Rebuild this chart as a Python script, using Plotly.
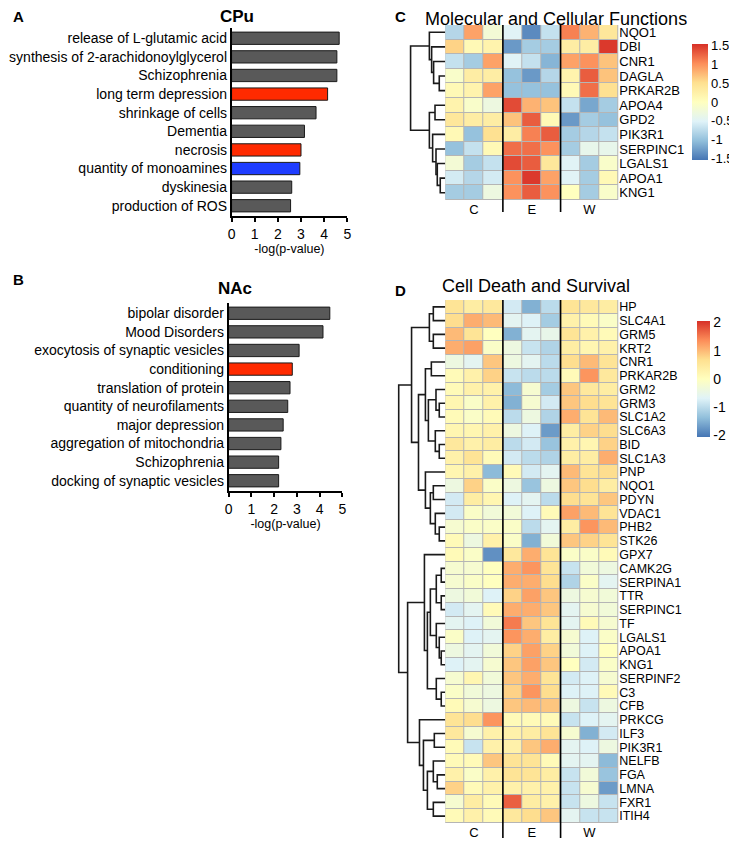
import plotly.graph_objects as go

# the html body adds an 8 px margin, so the figure div is sized to fit the 737x841 page
PAGE_OFF = 8
W, H = 737 - PAGE_OFF, 841 - PAGE_OFF
FONT = "Liberation Sans, Arial, sans-serif"

# ---------------- Panel A / B data ----------------
terms_A = ["release of L-glutamic acid", "synthesis of 2-arachidonoylglycerol",
           "Schizophrenia", "long term depression", "shrinkage of cells",
           "Dementia", "necrosis", "quantity of monoamines", "dyskinesia",
           "production of ROS"]
logp_A = [4.65, 4.55, 4.55, 4.15, 3.65, 3.15, 3.0, 2.95, 2.6, 2.55]
highlight_A = {"long term depression": "red", "necrosis": "red",
               "quantity of monoamines": "blue"}

terms_B = ["bipolar disorder", "Mood Disorders", "exocytosis of synaptic vesicles",
           "conditioning", "translation of protein", "quantity of neurofilaments",
           "major depression", "aggregation of mitochondria", "Schizophrenia",
           "docking of synaptic vesicles"]
logp_B = [4.45, 4.15, 3.1, 2.8, 2.7, 2.6, 2.4, 2.3, 2.2, 2.2]
highlight_B = {"conditioning": "red"}

# ---------------- Heatmap data ----------------
groups = ["C", "E", "W"]
reps = 3
samples = [g + str(r + 1) for g in groups for r in range(reps)]

genes_C = ["NQO1", "DBI", "CNR1", "DAGLA", "PRKAR2B", "APOA4", "GPD2", "PIK3R1",
           "SERPINC1", "LGALS1", "APOA1", "KNG1"]
expr_C = [
    [-0.8, 0.9, -0.2, -0.5, -1.4, -0.7, 1.1, 0.8, 0.4],
    [0.6, 0.1, 0.2, -1.3, -0.9, -0.9, 0.3, 0.3, 1.5],
    [-0.7, -0.9, 0.9, -0.5, -0.7, -1.1, 0.9, 1.0, 0.7],
    [-0.1, 0.3, 0.3, -1.0, -1.3, -0.8, 0.2, 1.3, 0.7],
    [0.1, 0.2, 0.9, -1.0, -1.0, -1.0, 0.1, 1.2, 0.5],
    [0.2, -0.1, -0.3, 1.4, 0.8, 0.7, -0.7, -1.2, -0.9],
    [0.4, 0.3, 0.3, 0.7, 1.3, 0.1, -1.3, -0.9, -1.0],
    [0.1, -1.0, 0.5, 0.3, 1.1, 1.3, -0.9, -0.8, -0.7],
    [-1.0, -0.7, 0.1, 1.2, 1.2, 1.0, -0.9, -0.4, -0.4],
    [-0.2, -0.9, -0.7, 1.4, 1.3, 0.4, -0.5, -0.9, -0.1],
    [-0.6, -0.8, -0.6, 1.0, 1.5, 0.9, -0.5, -0.9, 0.1],
    [-0.9, -0.9, -0.3, 1.0, 1.3, 1.0, 0.0, -0.9, -0.1],
]
# row clustering: (left, right, height); ints refer to earlier merges
link_C = [
    ("DAGLA", "PRKAR2B", 6), ("CNR1", 0, 11.7), ("DBI", 1, 13.7), ("NQO1", 2, 16),
    ("APOA1", "KNG1", 5), ("LGALS1", 4, 8), ("SERPINC1", 5, 9.3), ("PIK3R1", 6, 12.7),
    ("APOA4", "GPD2", 10.3), (8, 7, 16), (3, 9, 35),
]

genes_D = ["HP", "SLC4A1", "GRM5", "KRT2", "CNR1", "PRKAR2B", "GRM2", "GRM3",
           "SLC1A2", "SLC6A3", "BID", "SLC1A3", "PNP", "NQO1", "PDYN", "VDAC1",
           "PHB2", "STK26", "GPX7", "CAMK2G", "SERPINA1", "TTR", "SERPINC1", "TF",
           "LGALS1", "APOA1", "KNG1", "SERPINF2", "C3", "CFB", "PRKCG", "ILF3",
           "PIK3R1", "NELFB", "FGA", "LMNA", "FXR1", "ITIH4"]
expr_D = [
    [0.6, 0.4, 0.5, -0.8, -1.5, -1.0, 0.6, 0.5, 0.4],
    [0.7, 1.1, 1.0, -0.6, -0.7, -1.2, 0.3, 0.1, -0.1],
    [1.0, 0.6, 0.0, -1.5, -0.6, -0.5, 0.6, 0.3, 0.1],
    [1.1, 1.2, -0.1, -0.4, -0.9, -1.1, 0.4, 0.2, 0.3],
    [-0.4, -0.6, 0.9, -0.4, -0.6, -1.0, 0.7, 1.0, 0.6],
    [0.1, 0.3, 0.8, -0.9, -1.0, -1.0, 0.1, 1.3, 0.5],
    [0.1, 0.3, 0.3, -1.4, -0.2, -1.2, 0.9, 0.5, 0.4],
    [0.2, -0.1, 0.3, -1.5, -0.2, -0.8, 0.9, 0.7, 0.6],
    [0.1, -0.1, 0.1, -1.0, -0.4, -1.1, 1.1, 0.6, 1.0],
    [0.2, 0.2, 0.3, -0.4, -0.7, -1.7, 0.4, 0.8, 0.7],
    [0.5, 0.3, 0.4, -1.0, -0.8, -1.3, 0.3, 0.2, 0.8],
    [0.3, 0.6, 0.1, -0.8, -1.0, -1.1, 0.4, 0.4, 1.1],
    [0.2, 0.3, -1.4, 0.1, -0.8, -0.6, 1.0, 0.6, 0.7],
    [-0.4, 0.8, -0.1, -0.4, -1.3, -0.4, 0.9, 0.7, 0.4],
    [-0.8, 0.4, 0.2, -0.7, -0.6, -1.0, 0.7, 0.6, 0.9],
    [-0.8, -0.1, -0.3, -0.3, -0.7, 0.1, 1.2, 1.0, 0.6],
    [-0.2, -0.1, -0.1, -0.1, -1.0, -0.6, 0.4, 1.3, 1.0],
    [0.1, -0.4, 0.3, -0.1, -1.5, -0.3, 0.9, 0.8, 0.6],
    [0.1, -0.1, -1.8, 0.5, 1.1, 0.6, -0.1, -0.1, 0.1],
    [-0.2, -0.2, 0.0, 1.1, 1.3, 0.6, -0.9, -0.3, -0.4],
    [-0.2, -0.1, 0.0, 1.1, 1.1, 0.7, -1.1, -0.1, -0.6],
    [-0.4, -0.3, -0.7, 0.8, 1.2, 0.9, -0.4, -0.2, -0.3],
    [-0.8, -0.6, 0.1, 1.1, 1.1, 0.9, -0.6, -0.2, -0.3],
    [-0.6, -0.7, -0.3, 1.5, 0.9, 0.6, -0.6, 0.1, -0.2],
    [-0.1, -0.7, -0.6, 1.3, 1.1, 0.4, -0.2, -0.7, -0.1],
    [-0.4, -0.6, -0.3, 0.8, 1.2, 0.8, -0.3, -0.7, 0.0],
    [-0.7, -0.6, -0.2, 0.9, 1.2, 0.9, 0.0, -0.8, -0.1],
    [-0.2, 0.2, -0.3, 0.9, 1.1, 0.6, -0.8, -0.7, -0.2],
    [-0.1, -0.3, -0.4, 0.8, 1.3, 0.7, -0.7, -0.7, 0.1],
    [0.1, -0.2, -0.4, 0.9, 1.0, 0.9, -0.4, -0.9, -0.4],
    [0.6, 0.7, 1.3, 0.1, 0.1, 0.1, -0.9, -0.7, -0.6],
    [0.5, -0.2, 0.3, 0.3, 0.4, 0.6, -0.2, -1.5, -0.8],
    [0.1, -0.9, 0.3, 0.3, 0.9, 1.1, -0.6, -0.7, -0.4],
    [0.1, 0.1, 0.9, 0.6, 0.6, 0.1, -0.6, -0.6, -1.4],
    [0.3, -0.1, 0.3, 0.6, 0.6, 0.4, -0.9, -0.3, -1.3],
    [0.8, 0.1, 0.3, 0.3, 0.3, 0.3, -0.9, -0.2, -1.7],
    [-0.2, 0.4, 0.1, 1.7, 0.4, 0.3, -0.9, -0.4, -0.9],
    [0.1, 0.3, 0.1, 0.5, 0.7, 0.9, -0.6, -0.9, -0.9],
]
link_D = [
    ("HP", "SLC4A1", 12), ("GRM5", "KRT2", 12), (0, 1, 16),
    ("CNR1", "PRKAR2B", 14), ("GRM3", "SLC1A2", 6), ("GRM2", 4, 9.3),
    ("BID", "SLC1A3", 6), ("SLC6A3", 6, 10), (5, 7, 17), (3, 8, 20),
    ("NQO1", "PDYN", 12), ("PHB2", "STK26", 6), ("VDAC1", 11, 10), (10, 12, 15),
    ("PNP", 13, 20), (9, 14, 27), (2, 15, 34),
    ("CAMK2G", "SERPINA1", 4), ("TTR", "SERPINC1", 4), (17, 18, 9),
    ("APOA1", "KNG1", 4), ("LGALS1", 20, 6), ("TF", 21, 9), (19, 22, 15),
    ("C3", "CFB", 4), ("SERPINF2", 24, 9), (23, 25, 18), ("GPX7", 26, 21),
    ("ILF3", "PIK3R1", 11), ("FGA", "LMNA", 8), ("NELFB", 29, 12),
    ("FXR1", "ITIH4", 12), (30, 31, 18), (28, 32, 22), ("PRKCG", 33, 26),
    (27, 34, 38), (16, 35, 47),
]


# ---------------- helpers (page pixel -> paper fraction) ----------------
def px_x(p):
    return (p - PAGE_OFF) / W


def px_y(p):
    return 1 - (p - PAGE_OFF) / H


def dendro_lines(genes, links):
    leaf = {g: (i, 0.0) for i, g in enumerate(genes)}
    nodes = []
    xs, ys = [], []
    for a, b, h in links:
        ya, ha = nodes[a] if isinstance(a, int) else leaf[a]
        yb, hb = nodes[b] if isinstance(b, int) else leaf[b]
        xs += [ha, h, h, hb, None]
        ys += [ya, ya, yb, yb, None]
        nodes.append(((ya + yb) / 2, h))
    return xs, ys


BAR_COLORS = {"red": "#ff2a00", "blue": "#1e3cff"}
GREY = "#595959"
RDYLBU = [[0, "#4575B4"], [1 / 6, "#91BFDB"], [2 / 6, "#E0F3F8"], [0.5, "#FFFFBF"],
          [4 / 6, "#FEE090"], [5 / 6, "#FC8D59"], [1, "#D73027"]]

fig = go.Figure()

# ---------------- bars ----------------
for terms, vals, hl, xa, ya in [(terms_A, logp_A, highlight_A, "x", "y"),
                                (terms_B, logp_B, highlight_B, "x2", "y2")]:
    fig.add_trace(go.Bar(
        x=vals, y=terms, orientation="h", xaxis=xa, yaxis=ya,
        marker=dict(color=[BAR_COLORS[hl[t]] if t in hl else GREY for t in terms],
                    line=dict(color="#1a1a1a", width=1)),
        width=0.66, showlegend=False, hoverinfo="x+y"))

bar_axes = [("xaxis", "yaxis", 230, 347, 28, 216, terms_A),
            ("xaxis2", "yaxis2", 227, 342, 303, 491, terms_B)]
layout = {}
for xk, yk, x0, x1, y0, y1, terms in bar_axes:
    layout[xk] = dict(domain=[px_x(x0), px_x(x1)], range=[0, 5], dtick=1,
                      showline=True, linecolor="black", linewidth=1.5,
                      ticks="outside", ticklen=4, tickwidth=1.5, tickcolor="black",
                      showgrid=False, zeroline=False,
                      anchor=yk.replace("axis", ""),
                      tickfont=dict(size=14, color="black"),
                      title=dict(text="-log(p-value)", standoff=2,
                                 font=dict(size=12.5, color="black")))
    layout[yk] = dict(domain=[px_y(y1), px_y(y0)], type="category",
                      categoryarray=terms, tickvals=terms,
                      range=[len(terms) - 0.45, -0.55],
                      showline=True, linecolor="black", linewidth=1.5,
                      ticks="", showgrid=False, zeroline=False,
                      anchor=xk.replace("axis", ""),
                      tickfont=dict(size=14, color="black"))

# ---------------- heatmaps ----------------
heat_specs = [
    (genes_C, expr_C, link_C, "x3", "y3", "x4", "y4", "coloraxis",
     25, 200, 212, 409, 37, 13),
    (genes_D, expr_D, link_D, "x5", "y5", "x6", "y6", "coloraxis2",
     300, 823, 838, 396, 50, 12.5),
]
shapes = []
HX0, HX1 = 446, 621
for genes, expr, links, hx, hy, dx, dy, cax, top, bot, sep_bot, dx0, dmax, gfs in heat_specs:
    n = len(genes)
    # grey cell borders
    shapes.append(dict(type="rect", xref="paper", yref="paper",
                       x0=px_x(HX0), x1=px_x(HX1), y0=px_y(bot), y1=px_y(top),
                       fillcolor="#b5b5b5", line=dict(width=0), layer="below"))
    fig.add_trace(go.Heatmap(z=expr, x=samples, y=genes, xaxis=hx, yaxis=hy,
                             coloraxis=cax, xgap=1, ygap=1))
    xs, ys = dendro_lines(genes, links)
    fig.add_trace(go.Scatter(x=xs, y=ys, mode="lines", xaxis=dx, yaxis=dy,
                             line=dict(color="#1a1a1a", width=1.6),
                             showlegend=False, hoverinfo="skip", cliponaxis=False))
    xk = "xaxis" + hx[1:]
    yk = "yaxis" + hy[1:]
    layout[xk] = dict(domain=[px_x(HX0), px_x(HX1)], type="category",
                      categoryarray=samples, range=[-0.5, len(samples) - 0.5],
                      tickvals=[g + str(reps // 2 + 1) for g in groups], ticktext=groups,
                      ticks="", showgrid=False, zeroline=False, showline=False,
                      anchor=hy, tickfont=dict(size=13, color="black"))
    layout[yk] = dict(domain=[px_y(bot), px_y(top)], type="category",
                      categoryarray=genes, tickvals=genes, range=[n - 0.5, -0.5],
                      side="right",
                      ticks="", showgrid=False, zeroline=False, showline=False,
                      anchor=hx, tickfont=dict(size=gfs, color="black"))
    layout["xaxis" + dx[1:]] = dict(domain=[px_x(dx0), px_x(HX0)], range=[dmax, 0],
                                    visible=False, anchor=dy)
    layout["yaxis" + dy[1:]] = dict(domain=[px_y(bot), px_y(top)], range=[n - 0.5, -0.5],
                                    visible=False, anchor=dx)
    for k in range(1, len(groups)):
        xv = k * reps - 0.5
        shapes.append(dict(type="line", xref=hx, yref="paper", x0=xv, x1=xv,
                           y0=px_y(sep_bot), y1=px_y(top),
                           line=dict(color="black", width=1.6)))

layout["coloraxis"] = dict(colorscale=RDYLBU, cmin=-1.55, cmax=1.55,
                           colorbar=dict(x=px_x(696), xanchor="left", y=px_y(44),
                                         yanchor="top", len=116, lenmode="pixels",
                                         thickness=16, thicknessmode="pixels",
                                         outlinewidth=0, ticks="",
                                         tickvals=[1.5, 1, 0.5, 0, -0.5, -1, -1.5],
                                         ticktext=["1.5", "1", "0.5", "0", "-0.5", "-1", "-1.5"],
                                         tickfont=dict(size=13, color="black"), ypad=0, xpad=0))
layout["coloraxis2"] = dict(colorscale=RDYLBU, cmin=-2.05, cmax=2.05,
                            colorbar=dict(x=px_x(701), xanchor="left", y=px_y(321),
                                          yanchor="top", len=116, lenmode="pixels",
                                          thickness=13, thicknessmode="pixels",
                                          outlinewidth=0, ticks="",
                                          tickvals=[2, 1, 0, -1, -2],
                                          ticktext=["2", "1", "0", "-1", "-2"],
                                          tickfont=dict(size=14, color="black"), ypad=0, xpad=0))

annotations = []


def ann(text, x, y, size, bold=False, xanchor="center", yanchor="middle", height=None):
    a = dict(text=f"<b>{text}</b>" if bold else text, x=px_x(x), y=px_y(y),
             xref="paper", yref="paper", showarrow=False, xanchor=xanchor,
             yanchor=yanchor, borderpad=0, font=dict(size=size, color="black"))
    if height is not None:
        a.update(height=height, valign="top")
    annotations.append(a)


# texts at the very top of the page sit against the top edge of the figure
ann("A", 8, 7, 15, True, "left", "top")
ann("B", 8, 279, 15, True, "left")
ann("C", 394, 7, 15, True, "left", "top")
ann("D", 394, 290, 15, True, "left")
ann("CPu", 236, 6, 17, True, "center", "top")
ann("NAc", 233, 289, 17, True)
ann("Molecular and Cellular Functions", 425, PAGE_OFF, 18, False, "left", "top", height=17)
ann("Cell Death and Survival", 442, 286, 18, False, "left")

fig.update_layout(width=W, height=H, margin=dict(l=0, r=0, t=0, b=0),
                  paper_bgcolor="white", plot_bgcolor="white",
                  font=dict(family=FONT, color="black"),
                  shapes=shapes, annotations=annotations, showlegend=False,
                  bargap=0.34, **layout)

fig.write_html("out.html")
